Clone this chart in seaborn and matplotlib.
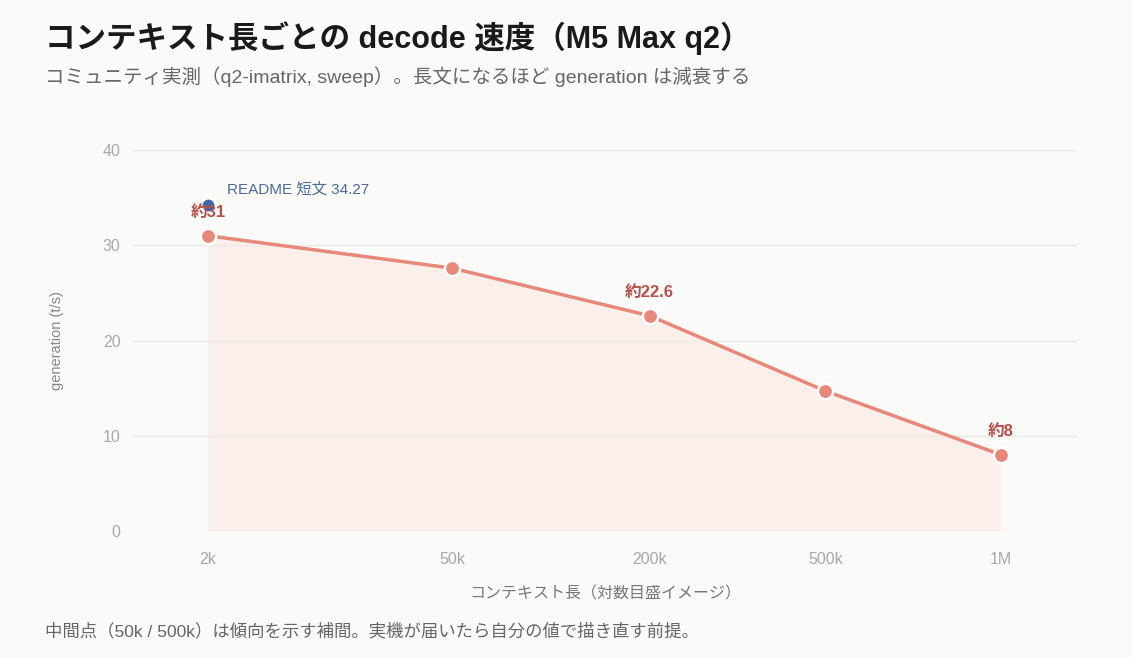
import pandas as pd
import seaborn as sns
import matplotlib.pyplot as plt

# data
ctx_labels = ["2k", "50k", "200k", "500k", "1M"]
ctx_pos = [0, 1.0, 1.81, 2.53, 3.25]   # position on the "log image" axis
gen_tps = [31.0, 27.6, 22.6, 14.7, 8.0]
point_notes = ["約31", None, "約22.6", None, "約8"]
readme_value = 34.27
readme_note = "README 短文 34.27"

df = pd.DataFrame({"pos": ctx_pos, "gen": gen_tps})

sns.set_theme(style="white")
plt.rcParams["font.family"] = ["Liberation Sans", "Noto Sans CJK JP", "DejaVu Sans"]

bg = "#fafaf8"
line_c = "#e8887b"
note_c = "#b5524a"
blue_c = "#3f66a8"

fig = plt.figure(figsize=(11.32, 6.58), dpi=100, facecolor=bg)
ax = fig.add_axes([133 / 1132, 1 - 531 / 658, (1077 - 133) / 1132, (531 - 150) / 658])
ax.set_facecolor(bg)

ax.fill_between(df["pos"], df["gen"], 0, color="#fbe9e3", alpha=0.6, linewidth=0)
sns.lineplot(data=df, x="pos", y="gen", ax=ax, color=line_c, linewidth=2.5,
             marker="o", markersize=11, markeredgecolor="white", markeredgewidth=1.8,
             clip_on=False, zorder=3)

# README short-prompt point
ax.plot(ctx_pos[0], readme_value, "o", color=blue_c, markersize=10,
        markeredgecolor="white", markeredgewidth=1.5, clip_on=False, zorder=4)
ax.annotate(readme_note, xy=(ctx_pos[0], readme_value), xytext=(14, 11),
            textcoords="offset points", fontsize=11, color="#4a6a9c",
            ha="left", va="center")

for p, v, note in zip(ctx_pos, gen_tps, point_notes):
    if note:
        ax.annotate(note, xy=(p, v), xytext=(0, 17), textcoords="offset points",
                    ha="center", va="center", fontsize=12, fontweight="bold",
                    color=note_c, zorder=5)

ax.set_xlim(-0.307, 3.561)
ax.set_ylim(0, 40)
ax.set_yticks([0, 10, 20, 30, 40])
ax.set_xticks(ctx_pos)
ax.set_xticklabels(ctx_labels)
ax.grid(axis="y", color="#e9e9e7", linewidth=1)
ax.grid(axis="x", visible=False)
for s in ax.spines.values():
    s.set_visible(False)
ax.tick_params(axis="both", length=0, labelsize=11.5, labelcolor="#a8a8a8")
ax.tick_params(axis="y", pad=9)
ax.tick_params(axis="x", pad=15)
ax.set_xlabel("コンテキスト長（対数目盛イメージ）", fontsize=11.5, color="#777777", labelpad=14)
ax.set_ylabel("generation (t/s)", fontsize=10.5, color="#888888", labelpad=28)

fig.text(45 / 1132, 1 - 38 / 658, "コンテキスト長ごとの decode 速度（M5 Max q2）",
         fontsize=22, fontweight="bold", color="#1a1a1a", ha="left", va="center")
fig.text(45 / 1132, 1 - 77 / 658, "コミュニティ実測（q2-imatrix, sweep）。長文になるほど generation は減衰する",
         fontsize=14, color="#666666", ha="left", va="center")
fig.text(45 / 1132, 1 - 631 / 658, "中間点（50k / 500k）は傾向を示す補間。実機が届いたら自分の値で描き直す前提。",
         fontsize=12.5, color="#666666", ha="left", va="center")

fig.savefig("out.png", dpi=100, facecolor=bg)
